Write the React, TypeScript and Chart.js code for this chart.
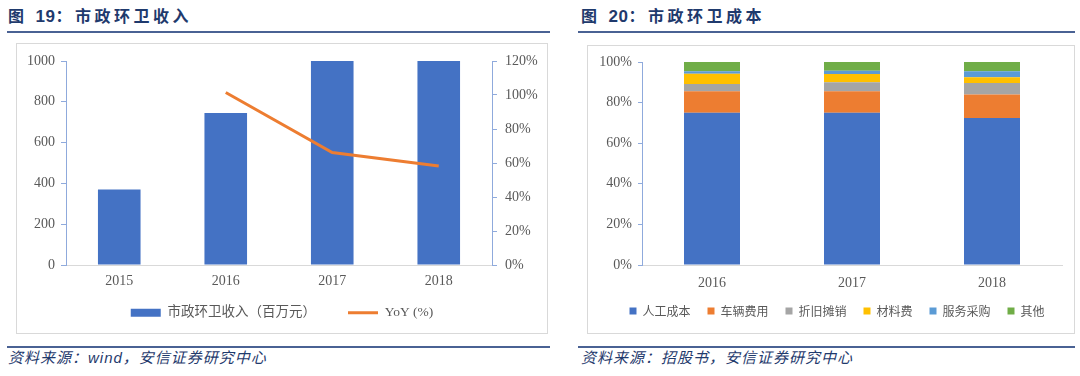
import React, { useEffect, useRef } from "react";
import { Chart, registerables } from "chart.js";

Chart.register(...registerables);

// ---------- Figure 19 data ----------
const years19 = ["2015", "2016", "2017", "2018"];
const revenue = [370, 745, 1000, 1000];
const yoy = [null, 101.5, 66.2, 58.3];
const revenueLabel = "市政环卫收入（百万元）";
const yoyLabel = "YoY (%)";

// ---------- Figure 20 data ----------
const years20 = ["2016", "2017", "2018"];
const costNames = ["人工成本", "车辆费用", "折旧摊销", "材料费", "服务采购", "其他"];
const labor = [75.0, 75.0, 72.4];
const vehicle = [10.6, 10.6, 11.6];
const depreciation = [3.6, 4.4, 5.7];
const material = [5.0, 4.1, 2.8];
const service = [1.3, 1.6, 3.0];
const other = [4.5, 4.3, 4.5];
const costColors = ["#4472C4", "#ED7D31", "#A5A5A5", "#FFC000", "#5B9BD5", "#70AD47"];

const TICK_FONT = { family: '"Liberation Serif", "Times New Roman", serif', size: 14 };
const LEGEND_FONT = { family: '"Liberation Serif", "Noto Sans CJK SC", serif', size: 13.5 };
const TICK_COLOR = "#595959";
const AXIS_BLUE = "#8FAADC";
const AXIS_GRAY = "#D9D9D9";
const NAVY = "#1F3A6D";

// moves the legend box after layout (keeps plot area untouched)
const legendShift = (dx: number, dy: number, h: number) => ({
  id: "legendShift",
  afterLayout(chart: any) {
    const lg = chart.legend;
    if (!lg) return;
    lg.left += dx;
    lg.right += dx;
    lg.top += dy;
    lg.bottom = lg.top + h;
    lg.height = h;
  },
});

function RevenueChart() {
  const ref = useRef<HTMLCanvasElement | null>(null);
  useEffect(() => {
    if (!ref.current) return;
    const chart = new Chart(ref.current, {
      type: "bar",
      data: {
        labels: years19,
        datasets: [
          {
            type: "bar",
            label: revenueLabel,
            data: revenue,
            backgroundColor: "#4472C4",
            borderWidth: 0,
            barPercentage: 0.4,
            categoryPercentage: 1,
            yAxisID: "y",
            order: 1,
            pointStyle: "rect",
          } as any,
          {
            type: "line",
            label: yoyLabel,
            data: yoy,
            borderColor: "#ED7D31",
            backgroundColor: "#ED7D31",
            borderWidth: 3,
            pointRadius: 0,
            tension: 0,
            yAxisID: "y1",
            order: 0,
            pointStyle: "line",
          } as any,
        ],
      },
      options: {
        animation: false,
        responsive: false,
        maintainAspectRatio: false,
        layout: { padding: { top: 17, bottom: 4, left: 0, right: 0 } },
        plugins: {
          tooltip: { enabled: false },
          legend: {
            position: "bottom",
            maxHeight: 33,
            labels: {
              usePointStyle: true,
              pointStyleWidth: 30,
              boxHeight: 8,
              padding: 32,
              color: TICK_COLOR,
              font: LEGEND_FONT,
              sort: (a: any, b: any) => a.datasetIndex - b.datasetIndex,
            },
          },
        },
        scales: {
          x: {
            grid: { display: false, drawTicks: false },
            border: { display: true, color: AXIS_GRAY, width: 1 },
            ticks: { color: TICK_COLOR, font: TICK_FONT, padding: 8 },
            afterFit: (s: any) => { s.height = 31; },
          },
          y: {
            position: "left",
            min: 0,
            max: 1000,
            ticks: { stepSize: 200, color: TICK_COLOR, font: TICK_FONT, padding: 6, callback: (v: any) => String(v) },
            grid: { display: true, drawOnChartArea: false, drawTicks: true, tickLength: 5, color: AXIS_BLUE },
            border: { display: true, color: AXIS_BLUE, width: 1 },
            afterFit: (s: any) => { s.width = 49; },
          },
          y1: {
            position: "right",
            min: 0,
            max: 120,
            ticks: {
              stepSize: 20,
              color: TICK_COLOR,
              font: TICK_FONT,
              padding: 8,
              callback: (v: any) => v + "%",
            },
            grid: { display: true, drawOnChartArea: false, drawTicks: true, tickLength: 5, color: AXIS_BLUE },
            border: { display: true, color: AXIS_BLUE, width: 1 },
            afterFit: (s: any) => { s.width = 55; },
          },
        },
      } as any,
      plugins: [legendShift(0, -22, 56)],
    });
    return () => chart.destroy();
  }, []);
  return <canvas ref={ref} width={530} height={289} style={{ position: "absolute", left: 17, top: 44, width: 530, height: 289 }} />;
}

function CostChart() {
  const ref = useRef<HTMLCanvasElement | null>(null);
  useEffect(() => {
    if (!ref.current) return;
    const series = [labor, vehicle, depreciation, material, service, other];
    const chart = new Chart(ref.current, {
      type: "bar",
      data: {
        labels: years20,
        datasets: series.map((d, i) => ({
          label: costNames[i],
          data: d,
          backgroundColor: costColors[i],
          borderWidth: 0,
          barPercentage: 0.4,
          categoryPercentage: 1,
        })),
      },
      options: {
        animation: false,
        responsive: false,
        maintainAspectRatio: false,
        layout: { padding: { top: 16, bottom: 5, left: 0, right: 12 } },
        plugins: {
          tooltip: { enabled: false },
          legend: {
            position: "bottom",
            labels: {
              boxWidth: 7,
              boxHeight: 7,
              padding: 17,
              color: TICK_COLOR,
              font: { family: '"Noto Sans CJK SC", sans-serif', size: 12 },
            },
          },
        },
        scales: {
          x: {
            stacked: true,
            grid: { display: false, drawTicks: false },
            border: { display: true, color: AXIS_GRAY, width: 1 },
            ticks: { color: TICK_COLOR, font: TICK_FONT, padding: 10 },
            afterFit: (s: any) => { s.height = 23; },
          },
          y: {
            stacked: true,
            min: 0,
            max: 100,
            ticks: { stepSize: 20, color: TICK_COLOR, font: TICK_FONT, padding: 6, callback: (v: any) => v + "%" },
            grid: { display: true, drawOnChartArea: false, drawTicks: true, tickLength: 4, color: AXIS_BLUE },
            border: { display: true, color: AXIS_BLUE, width: 1 },
            afterFit: (s: any) => { s.width = 54; },
          },
        },
      } as any,
      plugins: [legendShift(12, 0, 39)],
    });
    return () => chart.destroy();
  }, []);
  return <canvas ref={ref} width={486} height={286} style={{ position: "absolute", left: 588, top: 46, width: 486, height: 286 }} />;
}

const titleStyle: React.CSSProperties = {
  position: "absolute",
  top: 7,
  fontFamily: '"Liberation Sans", "Noto Sans CJK SC", sans-serif',
  fontWeight: 700,
  fontSize: 16,
  lineHeight: "20px",
  letterSpacing: 3.5,
  color: NAVY,
  whiteSpace: "nowrap",
};

const numStyle: React.CSSProperties = { fontSize: 17, letterSpacing: 0.5 };

const footStyle: React.CSSProperties = {
  position: "absolute",
  top: 348,
  fontFamily: '"Liberation Sans", "Noto Sans CJK SC", sans-serif',
  fontStyle: "italic",
  fontSize: 15,
  lineHeight: "20px",
  letterSpacing: 1,
  color: NAVY,
  whiteSpace: "nowrap",
};

const rule = (left: number, width: number, top: number): React.CSSProperties => ({
  position: "absolute",
  left,
  top,
  width,
  height: 2,
  background: "#4A6294",
});

const box = (left: number, top: number, width: number, height: number): React.CSSProperties => ({
  position: "absolute",
  left,
  top,
  width,
  height,
  boxSizing: "border-box",
  border: "1px solid #D9D9D9",
});

export default function App() {
  return (
    <div style={{ position: "absolute", left: 0, top: 0, width: 1080, height: 376, background: "#fff", overflow: "hidden" }}>
      <div style={{ ...titleStyle, left: 8 }}>图 <span style={numStyle}>19</span>：市政环卫收入</div>
      <div style={rule(7, 543, 31)} />
      <div style={box(16, 43, 532, 291)} />
      <RevenueChart />
      <div style={rule(7, 543, 346)} />
      <div style={{ ...footStyle, left: 8 }}>资料来源：wind，安信证券研究中心</div>

      <div style={{ ...titleStyle, left: 581 }}>图 <span style={numStyle}>20</span>：市政环卫成本</div>
      <div style={rule(578, 497, 31)} />
      <div style={box(587, 45, 488, 289)} />
      <CostChart />
      <div style={rule(578, 497, 346)} />
      <div style={{ ...footStyle, left: 581 }}>资料来源：招股书，安信证券研究中心</div>
    </div>
  );
}
